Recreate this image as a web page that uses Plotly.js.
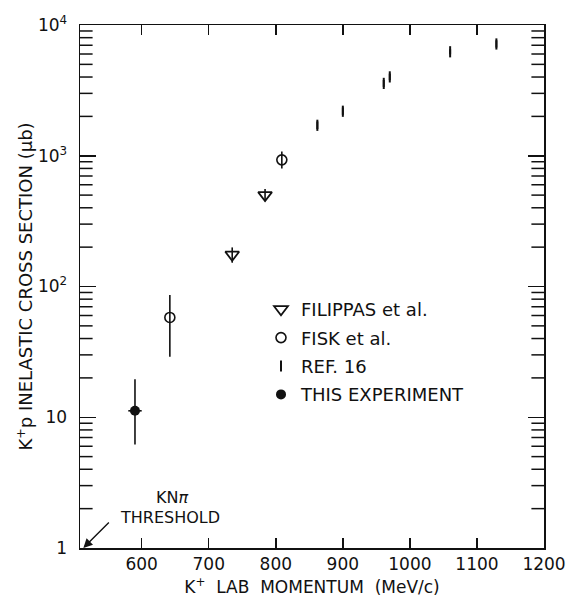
<!DOCTYPE html>
<html>
<head>
<meta charset="utf-8">
<script src="https://cdn.plot.ly/plotly-3.0.1.min.js"></script>
<style>html,body{margin:0;padding:0;background:#fff;}#chart{width:568px;height:601px;}</style>
</head>
<body>
<div id="chart"></div>
<script>
// Filippas et al.
const filX = [735, 784];
const filY = [175, 500];
const filHi = [199, 557];
const filLo = [152, 448];
// Fisk et al.
const fiskX = [642, 809];
const fiskY = [58, 930];
const fiskHi = [86, 1078];
const fiskLo = [29, 800];
// Ref. 16
const refX = [862, 900, 961, 970, 1060, 1129];
const refY = [1710, 2190, 3575, 4010, 6240, 7160];
const refHi = [1830, 2340, 3800, 4250, 6520, 7640];
const refLo = [1600, 2056, 3363, 3784, 5970, 6714];
// This experiment
const expX = [590];
const expY = [11.2];
const expHi = [19.5];
const expLo = [6.2];
const expDx = [10];

const xRange = [508, 1200];
const yTickVals = [1, 10, 100, 1000, 10000];
const yTickText = ['1', '10', '10<sup>2</sup>', '10<sup>3</sup>', '10<sup>4</sup>'];
const yMinorDigits = [2, 3, 4, 5, 6, 7, 8, 9];
const yDecades = [1, 10, 100, 1000];
const xTickVals = [600, 700, 800, 900, 1000, 1100, 1200];
const xTickText = ['600', '700', '800', '900', '1000', '1100', '1200'];

function errs(y, hi, lo) {
  return {
    plus: y.map((v, i) => hi[i] - v),
    minus: y.map((v, i) => v - lo[i])
  };
}

const black = '#111';
const fe = errs(filY, filHi, filLo);
const fk = errs(fiskY, fiskHi, fiskLo);
const rf = errs(refY, refHi, refLo);
const ex = errs(expY, expHi, expLo);

// minor log ticks: short horizontal markers sitting on the left/right frame, clipped to the plot area
const minorVals = [];
yDecades.forEach(d => yMinorDigits.forEach(m => minorVals.push(d * m)));
function minorTickTrace(xEdge) {
  return {
    x: minorVals.map(() => xEdge), y: minorVals, type: 'scatter', mode: 'markers',
    showlegend: false, hoverinfo: 'skip', cliponaxis: true,
    marker: {symbol: 'line-ew-open', size: 18, color: black, line: {width: 1.5, color: black}}
  };
}

const traces = [
  minorTickTrace(xRange[0]),
  minorTickTrace(xRange[1]),
  {
    x: filX, y: filY, type: 'scatter', mode: 'markers', name: 'FILIPPAS et al.',
    legendgroup: 'a',
    marker: {symbol: 'triangle-down-open', size: 12, color: black, line: {width: 1.8, color: black}},
    error_y: {type: 'data', symmetric: false, array: fe.plus, arrayminus: fe.minus, width: 0, thickness: 1.6, color: black}
  },
  {
    x: fiskX, y: fiskY, type: 'scatter', mode: 'markers', name: 'FISK et al.',
    legendgroup: 'b',
    marker: {symbol: 'circle-open', size: 10, color: black, line: {width: 1.6, color: black}},
    error_y: {type: 'data', symmetric: false, array: fk.plus, arrayminus: fk.minus, width: 0, thickness: 1.6, color: black}
  },
  {
    x: refX, y: refY, type: 'scatter', mode: 'markers', name: 'REF. 16',
    legendgroup: 'c',
    marker: {symbol: 'line-ns-open', size: 8, color: black, line: {width: 2, color: black}},
    error_y: {type: 'data', symmetric: false, array: rf.plus, arrayminus: rf.minus, width: 0, thickness: 2, color: black}
  },
  {
    x: expX, y: expY, type: 'scatter', mode: 'markers', name: 'THIS EXPERIMENT',
    legendgroup: 'd',
    marker: {symbol: 'circle', size: 10, color: black},
    error_y: {type: 'data', symmetric: false, array: ex.plus, arrayminus: ex.minus, width: 0, thickness: 1.6, color: black},
    error_x: {type: 'data', array: expDx, width: 0, thickness: 1.6, color: black}
  }
];

const font = {family: '"DejaVu Sans", "Liberation Sans", sans-serif', color: black};
const pw = 568 - 80 - 24, ph = 601 - 25 - 53;

const layout = {
  width: 568, height: 601,
  margin: {l: 80, r: 24, t: 25, b: 53},
  paper_bgcolor: '#fff', plot_bgcolor: '#fff',
  font: Object.assign({size: 15}, font),
  showlegend: true,
  legend: {
    x: (261 - 80) / pw, y: (548 - 291) / ph, xanchor: 'left', yanchor: 'top',
    bgcolor: 'rgba(0,0,0,0)', borderwidth: 0,
    font: Object.assign({size: 18}, font),
    tracegroupgap: 2, itemwidth: 30
  },
  xaxis: {
    type: 'linear', range: xRange,
    tickvals: xTickVals, ticktext: xTickText,
    ticks: 'inside', ticklen: 10, tickwidth: 1.5, tickcolor: black,
    showline: true, linecolor: black, linewidth: 1.5, mirror: 'ticks',
    showgrid: false, zeroline: false,
    tickfont: Object.assign({size: 17}, font),
    title: {text: 'K<sup>+</sup>  LAB  MOMENTUM  (MeV/c)', font: Object.assign({size: 17}, font), standoff: 8}
  },
  yaxis: {
    type: 'log', range: [0, 4],
    tickvals: yTickVals, ticktext: yTickText,
    ticks: 'inside', ticklen: 16, tickwidth: 1.5, tickcolor: black,
    showline: true, linecolor: black, linewidth: 1.5, mirror: 'ticks',
    showgrid: false, zeroline: false,
    tickfont: Object.assign({size: 17}, font),
    ticklabelstandoff: 8,
    title: {text: 'K<sup>+</sup>p INELASTIC CROSS SECTION (μb)', font: Object.assign({size: 18}, font), standoff: 0}
  },
  annotations: [
    {x: 513, y: 0, xref: 'x', yref: 'y', text: '', showarrow: true, arrowhead: 2, arrowsize: 1.3, arrowwidth: 1.4, arrowcolor: black, ax: 27, ay: -27},
    {x: (172 - 80) / pw, y: (548 - 497) / ph, xref: 'paper', yref: 'paper', xanchor: 'center', yanchor: 'middle',
     text: 'KN<i>π</i>', showarrow: false, font: Object.assign({size: 16}, font)},
    {x: (170 - 80) / pw, y: (548 - 517) / ph, xref: 'paper', yref: 'paper', xanchor: 'center', yanchor: 'middle',
     text: 'THRESHOLD', showarrow: false, font: Object.assign({size: 16}, font)}
  ]
};

Plotly.newPlot('chart', traces, layout, {displayModeBar: false, staticPlot: true});
</script>
</body>
</html>
